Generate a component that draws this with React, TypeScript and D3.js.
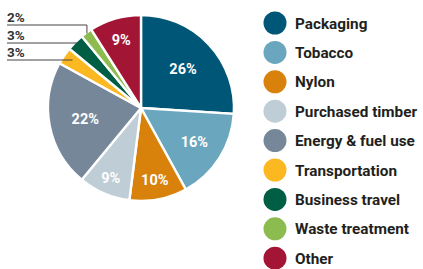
import React from "react";
import * as d3 from "d3";

const categories = ["Packaging", "Tobacco", "Nylon", "Purchased timber", "Energy & fuel use", "Transportation", "Business travel", "Waste treatment", "Other"];
const values = [26, 16, 10, 9, 22, 3, 3, 2, 9];
const colors = ["#005677", "#6aa6bd", "#d9820b", "#bfcdd6", "#76879a", "#fbb821", "#005e45", "#8cbb50", "#a31535"];
const labelRadius = [0.62, 0.68, 0.79, 0.82, 0.61, 0, 0, 0, 0.76];

const W = 423, H = 269;
const cx = 141, cy = 108, R = 93;

export default function App() {
  const pie = d3.pie<number>().sort(null).value((d) => d)(values);
  const arc = d3.arc<d3.PieArcDatum<number>>().innerRadius(0).outerRadius(R);
  const font = "Roboto, 'DejaVu Sans', sans-serif";
  const small = [7, 6, 5];
  const labelYs = [22, 40, 57];
  const lineYs = [25, 43, 60];
  return (
    <svg width={W} height={H} style={{ position: "absolute", left: 0, top: 0 }}>
      <g transform={`translate(${cx},${cy})`}>
        {pie.map((p, i) => (
          <path key={i} d={arc(p) || ""} fill={colors[i]} stroke="#fff" strokeWidth={2.4} strokeLinejoin="round" />
        ))}
        {pie.map((p, i) => {
          if (values[i] < 5) return null;
          const a = (p.startAngle + p.endAngle) / 2;
          const r = R * labelRadius[i];
          return (
            <text key={i} x={Math.sin(a) * r} y={-Math.cos(a) * r} dy="0.36em" textAnchor="middle" fill="#fff" fontFamily={font} fontWeight={700} fontSize={14.5}>
              {values[i]}%
            </text>
          );
        })}
      </g>
      {small.map((idx, k) => {
        const p = pie[idx];
        const a = (p.startAngle + p.endAngle) / 2;
        const ly = lineYs[k];
        let d: string;
        if (k === 0) {
          const r = R - 1;
          const px = cx + Math.sin(a) * r;
          const py = cy - Math.cos(a) * r;
          d = `M7,${ly}H${px}V${py}`;
        } else {
          const t = ((cy - ly) / Math.cos(a)) * 0.97;
          const px = cx + Math.sin(a) * t;
          d = `M7,${ly}H${px}`;
        }
        return (
          <g key={k}>
            <path d={d} fill="none" stroke="#444" strokeWidth={1} />
            <text x={7} y={labelYs[k]} fill="#333" fontFamily={font} fontWeight={700} fontSize={13.5}>
              {values[idx]}%
            </text>
          </g>
        );
      })}
      {categories.map((c, i) => (
        <g key={c} transform={`translate(275,${23 + i * 29.4})`}>
          <circle r={11.5} fill={colors[i]} />
          <text x={20} dy="0.36em" fill="#231f20" fontFamily={font} fontWeight={700} fontSize={15.3}>
            {c}
          </text>
        </g>
      ))}
    </svg>
  );
}
